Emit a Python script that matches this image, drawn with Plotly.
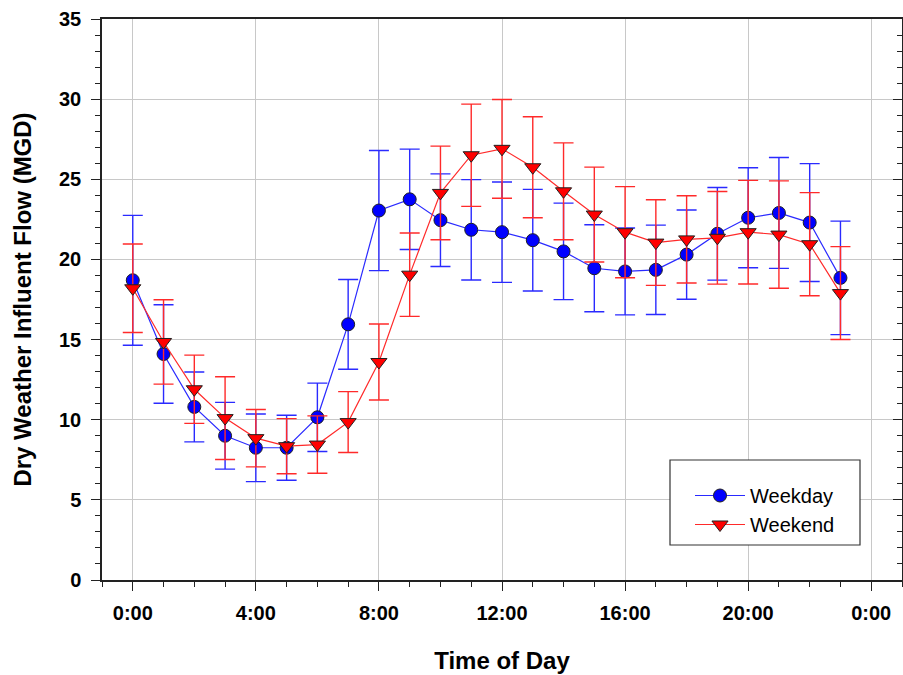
import plotly.graph_objects as go

hours = list(range(24))
tick_vals = [0, 4, 8, 12, 16, 20, 24]
tick_text = ["0:00", "4:00", "8:00", "12:00", "16:00", "20:00", "0:00"]

weekday = [18.7, 14.1, 10.8, 9.0, 8.25, 8.25, 10.15, 15.95, 23.05, 23.75, 22.45, 21.85,
           21.7, 21.2, 20.5, 19.45, 19.25, 19.35, 20.3, 21.6, 22.6, 22.9, 22.3, 18.85]
weekday_err = [4.05, 3.07, 2.18, 2.08, 2.11, 2.03, 2.13, 2.8, 3.75, 3.13, 2.89, 3.13,
               3.13, 3.17, 3.01, 2.71, 2.71, 2.79, 2.78, 2.89, 3.12, 3.46, 3.68, 3.54]
weekend = [18.2, 14.85, 11.9, 10.1, 8.85, 8.35, 8.45, 9.85, 13.6, 19.05, 24.15, 26.5,
           26.9, 25.75, 24.25, 22.8, 21.7, 21.05, 21.25, 21.35, 21.7, 21.55, 20.95, 17.9]
weekend_err = [2.76, 2.63, 2.13, 2.58, 1.79, 1.72, 1.79, 1.9, 2.37, 2.6, 2.92, 3.19,
               3.08, 3.15, 3.02, 2.96, 2.84, 2.67, 2.72, 2.89, 3.23, 3.35, 3.22, 2.9]

FONT = "Liberation Sans, Arial, sans-serif"
BLUE = "#2a2aff"
RED = "#ff2a2a"

# plot-area geometry in pixels (for the legend box placement)
L, T, W, H = 102, 19, 800, 561

def px_x(px):
    return (px - L) / W

def px_y(py):
    return (T + H - py) / H

fig = go.Figure()
fig.add_trace(go.Scatter(
    x=hours, y=weekday, name="Weekday", mode="lines+markers",
    line=dict(color=BLUE, width=1.2),
    marker=dict(symbol="circle", size=13, color="#0000ff", line=dict(color="#202020", width=1)),
    error_y=dict(type="data", array=weekday_err, visible=True, color=BLUE, thickness=1.4, width=10),
))
fig.add_trace(go.Scatter(
    x=hours, y=weekend, name="Weekend", mode="lines+markers",
    line=dict(color=RED, width=1.2),
    marker=dict(symbol="triangle-down", size=14, color="#ff0000", line=dict(color="#202020", width=1)),
    error_y=dict(type="data", array=weekend_err, visible=True, color=RED, thickness=1.4, width=10),
))
# invisible trace so the right-hand axis (inside ticks) is drawn
fig.add_trace(go.Scatter(x=[None], y=[None], yaxis="y2", showlegend=False, hoverinfo="skip"))

fig.add_shape(type="rect", xref="x domain", yref="y domain",
              x0=px_x(670), x1=px_x(860), y0=px_y(545), y1=px_y(460),
              line=dict(color="#333333", width=1.2), fillcolor="white", layer="above")

fig.update_layout(
    width=903, height=675,
    margin=dict(l=L, r=903 - L - W, t=T, b=675 - T - H, autoexpand=False),
    paper_bgcolor="white", plot_bgcolor="white",
    font=dict(family=FONT, color="black"),
    showlegend=True,
    legend=dict(
        x=px_x(690), y=px_y(476), xanchor="left", yanchor="top",
        bgcolor="rgba(0,0,0,0)", borderwidth=0,
        font=dict(family=FONT, size=20, color="black"),
        itemwidth=50, tracegroupgap=0,
    ),
    xaxis=dict(
        range=[-1, 25], tickmode="array", tickvals=tick_vals, ticktext=tick_text,
        ticks="outside", ticklen=9, tickwidth=1.2, tickcolor="#222",
        showline=True, linecolor="#222", linewidth=1.5, mirror=True,
        showgrid=True, gridcolor="#c8c8c8", gridwidth=1, zeroline=False, automargin=False,
        tickfont=dict(family=FONT, size=20, color="black", weight="bold"),
        ticklabelstandoff=5,
        minor=dict(dtick=1, tick0=0, ticks="outside", ticklen=5, tickcolor="#222", showgrid=False),
        title=dict(text="<b>Time of Day</b>", font=dict(family=FONT, size=24, color="black"), standoff=29),
    ),
    yaxis=dict(
        range=[0, 35], dtick=5, tick0=0,
        ticks="outside", ticklen=9, tickwidth=1.2, tickcolor="#222",
        showline=True, linecolor="#222", linewidth=1.5, mirror=True,
        showgrid=True, gridcolor="#c8c8c8", gridwidth=1, zeroline=False, automargin=False,
        tickfont=dict(family=FONT, size=20, color="black", weight="bold"),
        ticklabelstandoff=6,
        minor=dict(dtick=1, tick0=0, ticks="outside", ticklen=5, tickcolor="#222", showgrid=False),
        title=dict(text="<b>Dry Weather Influent Flow (MGD)</b>", font=dict(family=FONT, size=24, color="black"), standoff=21),
    ),
    yaxis2=dict(
        range=[0, 35], dtick=5, tick0=0, overlaying="y", side="right",
        ticks="inside", ticklen=9, tickwidth=1.2, tickcolor="#222", automargin=False,
        showticklabels=False, showgrid=False, zeroline=False, showline=False,
        minor=dict(dtick=1, tick0=0, ticks="inside", ticklen=5, tickcolor="#222", showgrid=False),
    ),
)

fig.write_html("out.html")
